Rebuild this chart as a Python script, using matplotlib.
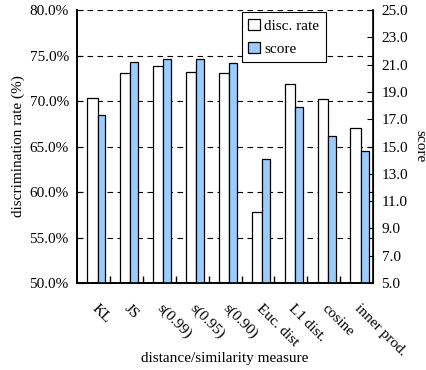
import matplotlib.pyplot as plt
import numpy as np

plt.rcParams['font.family'] = ['Liberation Serif', 'DejaVu Serif']

measures = ['KL', 'JS', 's(0.99)', 's(0.95)', 's(0.90)', 'Euc. dist', 'L1 dist.', 'cosine', 'inner prod.']
disc_rate = [70.3, 73.1, 73.9, 73.2, 73.1, 57.8, 71.9, 70.2, 67.0]
score = [17.3, 21.2, 21.4, 21.4, 21.1, 14.1, 17.9, 15.8, 14.7]

fig = plt.figure(figsize=(4.26, 3.70), dpi=100)
ax = fig.add_axes([0.181, 0.235, 0.695, 0.738])
ax2 = ax.twinx()

x = np.arange(len(measures))
ax.bar(x - 0.19, disc_rate, width=0.31, align='edge', color='white',
       edgecolor='black', linewidth=0.9, label='disc. rate', zorder=3)
ax2.bar(x + 0.12, score, width=0.24, align='edge', color='#99ccff',
        edgecolor='black', linewidth=0.9, label='score', zorder=3)

ax.set_xlim(-0.5, len(measures) - 0.5)
ax.set_ylim(50, 80)
ax.set_yticks(np.arange(50, 80.1, 5))
ax.set_yticklabels([f'{v:.1f}%' for v in np.arange(50, 80.1, 5)])
ax2.set_ylim(5, 25)
ax2.set_yticks(np.arange(5, 25.1, 2))
ax2.set_yticklabels([f'{v:.1f}' for v in np.arange(5, 25.1, 2)])

for v in np.arange(55, 80.1, 5):
    ax.axhline(v, color='black', linestyle=(0, (5, 4)), linewidth=0.8, zorder=1)

ax.set_xticks(x)
ax.set_xticklabels(measures, rotation=-45, ha='left', va='center', rotation_mode='anchor')
ax.tick_params(axis='x', which='major', length=0, pad=17, labelsize=11)
ax.set_xticks(np.arange(0.5, len(measures) - 0.5, 1), minor=True)
ax.tick_params(axis='x', which='minor', direction='in', length=5, width=1)
ax.tick_params(axis='y', direction='in', length=4, labelsize=11, pad=6)
ax2.tick_params(axis='y', direction='in', length=4, labelsize=11, pad=6)

ax.spines['top'].set_visible(False)
ax2.spines['top'].set_visible(False)
for s in ['left', 'bottom']:
    ax.spines[s].set_linewidth(1.2)
    ax.spines[s].set_zorder(10)
    ax2.spines[s].set_linewidth(1.2)
    ax2.spines[s].set_zorder(10)
ax2.spines['right'].set_linewidth(1.2)
ax2.spines['right'].set_zorder(10)

ax.set_xlabel('distance/similarity measure', fontsize=11)
ax.xaxis.set_label_coords(0.5, -0.253)
ax.set_ylabel('discrimination rate (%)', fontsize=11, labelpad=3)
ax2.set_ylabel('score', fontsize=11, rotation=270, labelpad=13)

h1, l1 = ax.get_legend_handles_labels()
h2, l2 = ax2.get_legend_handles_labels()
leg = ax2.legend(h1 + h2, l1 + l2, loc='upper left', bbox_to_anchor=(0.54, 1.008),
                 fancybox=False, edgecolor='black', framealpha=1, fontsize=11,
                 handlelength=0.75, handleheight=0.75, handletextpad=0.3,
                 borderpad=0.45, labelspacing=0.55, borderaxespad=0.3)
leg.get_frame().set_linewidth(0.8)

fig.savefig('out.png', dpi=100)
